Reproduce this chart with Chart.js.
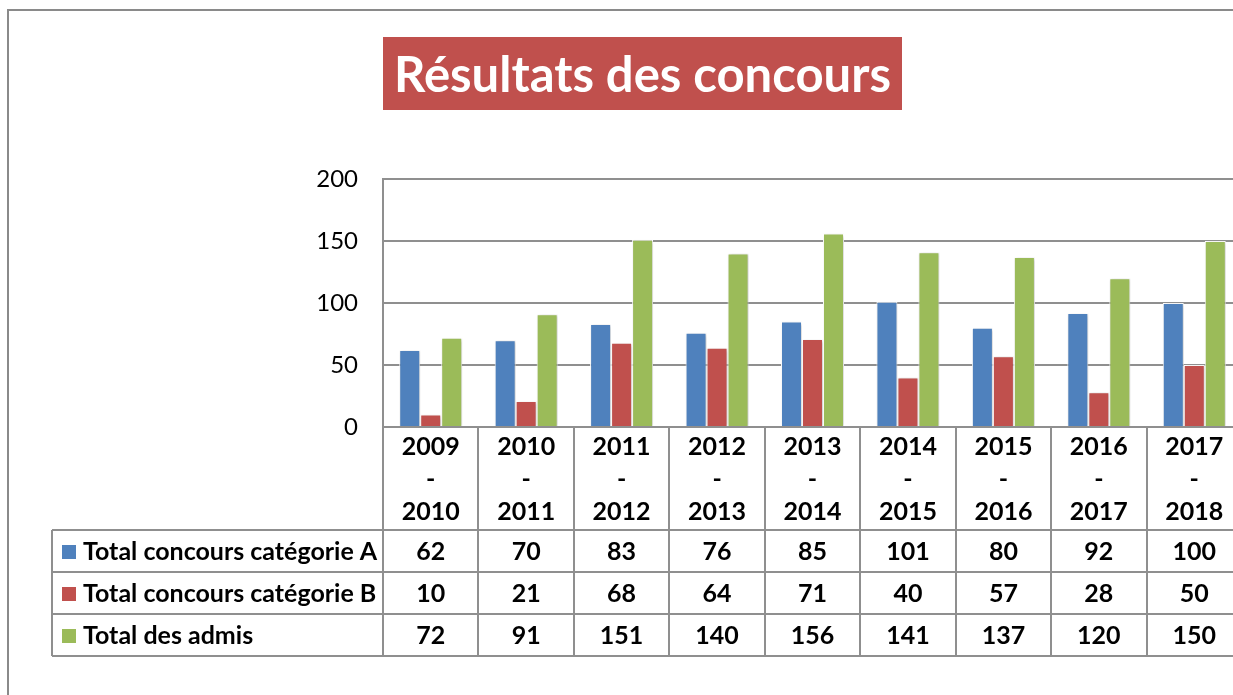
<!DOCTYPE html>
<html lang="fr">
<head>
<meta charset="utf-8">
<title>Résultats des concours</title>
<script src="https://cdn.jsdelivr.net/npm/chart.js@4.4.1/dist/chart.umd.min.js"></script>
<style>
    html, body { margin: 0; padding: 0; background: #fff; overflow: hidden; }
    #wrap { position: relative; width: 1233px; height: 695px; overflow: hidden; }
    #cadre {
        position: absolute; left: 7px; top: 9px; width: 1400px; height: 900px;
        border-left: 2px solid #8a8a8a; border-top: 2px solid #8a8a8a;
    }
    #titre {
        position: absolute; left: 383px; top: 37px; width: 519px; height: 73px;
        background: #C0504D; color: #fff; font-family: Lato, sans-serif;
        font-weight: bold; font-size: 49px; line-height: 73px; text-align: center;
    }
    canvas { position: absolute; left: 0; top: 0; }
</style>
</head>
<body>
<div id="wrap">
    <div id="cadre"></div>
    <canvas id="concoursChart" width="1250" height="695"></canvas>
    <div id="titre">Résultats des concours</div>
</div>
<script>
// Années scolaires (catégories)
const annees = ['2009-2010', '2010-2011', '2011-2012', '2012-2013', '2013-2014',
                '2014-2015', '2015-2016', '2016-2017', '2017-2018'];

// Valeurs par série
const totalCategorieA = [62, 70, 83, 76, 85, 101, 80, 92, 100];
const totalCategorieB = [10, 21, 68, 64, 71, 40, 57, 28, 50];
const totalAdmis = [72, 91, 151, 140, 156, 141, 137, 120, 150];

// Graduations de l'axe vertical
const graduations = [0, 50, 100, 150, 200];

const couleurs = ['#4F81BD', '#C0504D', '#9BBB59'];
const police = 'Lato, sans-serif';
const gris = '#8f8f8f';

// Plugin : ombre légère sous les barres
const ombreBarres = {
    id: 'ombreBarres',
    beforeDatasetsDraw(chart) {
        const ctx = chart.ctx;
        ctx.save();
        ctx.shadowColor = 'rgba(0,0,0,0.25)';
        ctx.shadowBlur = 3;
        ctx.shadowOffsetX = 1;
        ctx.shadowOffsetY = 1;
    },
    afterDatasetsDraw(chart) {
        chart.ctx.restore();
    }
};

// Plugin : tableau de données sous le graphique
const tableauDonnees = {
    id: 'tableauDonnees',
    afterDraw(chart) {
        const ctx = chart.ctx;
        const xs = chart.scales.x;
        const area = chart.chartArea;
        const n = annees.length;
        const pas = (area.right - area.left) / n;
        const haut = area.bottom;
        const ligneEntete = haut + 103;
        const hRang = 42;
        const bas = ligneEntete + hRang * 3;
        const gauche = 52;

        ctx.save();
        ctx.strokeStyle = gris;
        ctx.lineWidth = 2;

        // lignes verticales des colonnes
        for (let i = 0; i <= n; i++) {
            const x = Math.round(area.left + i * pas);
            ctx.beginPath();
            ctx.moveTo(x, haut);
            ctx.lineTo(x, bas);
            ctx.stroke();
        }
        // lignes horizontales
        for (let r = 0; r <= 3; r++) {
            const y = ligneEntete + r * hRang;
            ctx.beginPath();
            ctx.moveTo(gauche, y);
            ctx.lineTo(area.right + 10, y);
            ctx.stroke();
        }
        ctx.beginPath();
        ctx.moveTo(gauche, ligneEntete);
        ctx.lineTo(gauche, bas);
        ctx.stroke();

        ctx.fillStyle = '#000';
        ctx.font = 'bold 25px ' + police;
        ctx.textAlign = 'center';
        ctx.textBaseline = 'middle';

        // en-têtes des années
        annees.forEach((a, i) => {
            const cx = xs.getPixelForValue(i);
            const parts = a.split('-');
            ctx.fillText(parts[0], cx, haut + 20);
            ctx.fillText('-', cx, haut + 52);
            ctx.fillText(parts[1], cx, haut + 85);
        });

        // rangées de valeurs avec légende
        chart.data.datasets.forEach((ds, r) => {
            const cy = ligneEntete + r * hRang + hRang / 2 + 1;
            ctx.fillStyle = ds.backgroundColor;
            ctx.fillRect(62, cy - 7, 14, 14);
            ctx.fillStyle = '#000';
            ctx.textAlign = 'left';
            ctx.fillText(ds.label, 83, cy);
            ctx.textAlign = 'center';
            ds.data.forEach((v, i) => {
                ctx.fillText(String(v), xs.getPixelForValue(i), cy);
            });
        });
        ctx.restore();
    }
};

const ctx = document.getElementById('concoursChart').getContext('2d');
new Chart(ctx, {
    type: 'bar',
    data: {
        labels: annees,
        datasets: [
            { label: 'Total concours catégorie A', data: totalCategorieA, backgroundColor: couleurs[0] },
            { label: 'Total concours catégorie B', data: totalCategorieB, backgroundColor: couleurs[1] },
            { label: 'Total des admis', data: totalAdmis, backgroundColor: couleurs[2] }
        ]
    },
    options: {
        responsive: false,
        animation: false,
        devicePixelRatio: 1,
        layout: { padding: { left: 0, top: 179, right: 8, bottom: 268 } },
        datasets: {
            bar: {
                categoryPercentage: 0.66,
                barPercentage: 1,
                borderColor: '#ffffff',
                borderWidth: 1
            }
        },
        scales: {
            x: { display: false },
            y: {
                min: graduations[0],
                max: graduations[graduations.length - 1],
                afterFit(scale) { scale.width = 383; },
                afterBuildTicks(scale) { scale.ticks = graduations.map(v => ({ value: v })); },
                grid: { color: gris, lineWidth: 2, drawTicks: false },
                border: { color: gris, width: 2 },
                ticks: {
                    padding: 25,
                    color: '#000',
                    font: { family: police, size: 24 }
                }
            }
        },
        plugins: {
            legend: { display: false },
            title: { display: false },
            tooltip: { enabled: false }
        }
    },
    plugins: [ombreBarres, tableauDonnees]
});
</script>
</body>
</html>
